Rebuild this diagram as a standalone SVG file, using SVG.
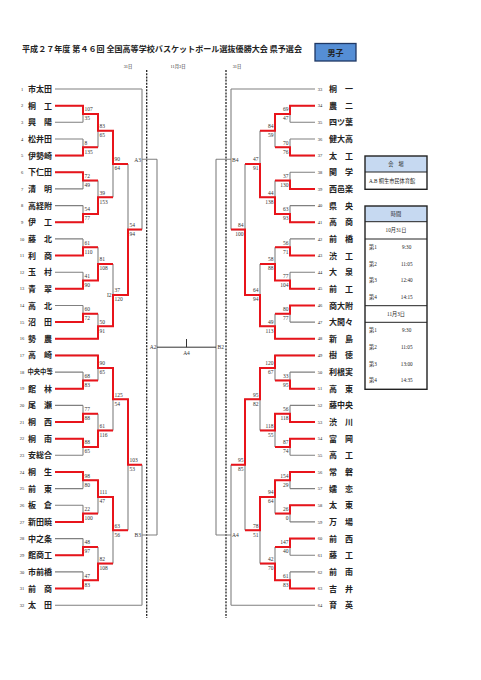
<svg xmlns="http://www.w3.org/2000/svg" width="481" height="680" viewBox="0 0 481 680">
<defs>
<style>
.g{stroke:#808080;stroke-width:1.1;fill:none}
.r{stroke:#e8141b;stroke-width:2;fill:none;stroke-linejoin:miter}
.k{stroke:#333;stroke-width:1;fill:none}
.d{stroke:#222;stroke-width:1.3;stroke-dasharray:2 1.2;fill:none}
text{font-family:"Liberation Serif","Noto Sans CJK JP",serif;fill:#222}
.nm{font-family:"Noto Sans CJK JP",sans-serif;font-weight:700;font-size:8px}
.nm4{font-family:"Noto Sans CJK JP",sans-serif;font-weight:700;font-size:6.3px}
.no{font-size:4.5px;text-anchor:middle}
.sc{font-size:5.5px;fill:#333}
.sr{font-size:5.5px;fill:#333;text-anchor:end}
.lb{font-size:5.5px;fill:#333}
.hd{font-size:4.3px;text-anchor:middle}
.bx{fill:none;stroke:#222;stroke-width:1.4}
.bl{stroke:#222;stroke-width:1}
.it{font-family:"Liberation Serif","Noto Sans CJK JP",serif;font-size:5.2px}
.ic{font-family:"Liberation Serif","Noto Sans CJK JP",serif;font-size:5.2px;text-anchor:middle}
</style>
<clipPath id="c1"><rect x="365" y="156" width="62" height="34"/></clipPath>
</defs>
<rect width="481" height="680" fill="#fff"/>

<g id="title">
<text x="22" y="52" style="font-family:'Noto Sans CJK JP',sans-serif;font-weight:700;font-size:8px" textLength="280" lengthAdjust="spacingAndGlyphs">平成２７年度 第４６回 全国高等学校バスケットボール選抜優勝大会 県予選会</text>
</g>
<g id="boys">
<rect x="315" y="43.5" width="41" height="17.5" fill="#558ed5" stroke="#1f3864" stroke-width="1.3"/>
<text x="335.5" y="55.5" text-anchor="middle" style="font-family:'Noto Sans CJK JP',sans-serif;font-weight:700;font-size:8px">男子</text>
</g>
<g id="dates">
<text class="hd" x="128" y="68">31日</text>
<text class="hd" x="178" y="68">11月3日</text>
<text class="hd" x="237" y="68">31日</text>
</g>

<g id="connectors">
<path class="d" d="M146.7,70V618M226,70V618"/>
<path class="g" d="M55,89H142M55,105.7H83M55,122.3H83M55,139H83M55,155.6H83M55,172.3H83M55,188.9H83M55,205.6H83M55,222.2H83M55,238.9H83M55,255.5H83M55,272.2H83M55,288.8H83M55,305.5H83M55,322.1H83M55,338.8H98M55,355.4H98M55,372.1H83M55,388.7H83M55,405.4H83M55,422H83M55,438.7H83M55,455.3H83M55,472H83M55,488.6H83M55,505.3H83M55,521.9H83M55,538.6H83M55,555.2H83M55,571.9H83M55,588.5H83M55,605.2H142
M83,105.7V122.3M83,114H98M83,139V155.6M83,147.3H98M83,172.3V188.9M83,180.6H98M83,205.6V222.2M83,213.9H98M83,238.9V255.5M83,247.2H98M83,272.2V288.8M83,280.5H98M83,305.5V322.1M83,313.8H98M83,372.1V388.7M83,380.4H98M83,405.4V422M83,413.7H98M83,438.7V455.3M83,447H98M83,472V488.6M83,480.3H98M83,505.3V521.9M83,513.6H98M83,538.6V555.2M83,546.9H98M83,571.9V588.5M83,580.2H98
M98,114V147.3M98,130.7H113M98,180.6V213.9M98,197.3H113M98,247.2V280.5M98,263.9H113M98,313.8V338.8M98,326.3H113M98,355.4V380.4M98,367.9H113M98,413.7V447M98,430.4H113M98,480.3V513.6M98,497H113M98,546.9V580.2M98,563.6H113
M113,130.7V197.3M113,164H128M113,263.9V326.3M113,295.1H128M113,367.9V430.4M113,399.2H128M113,497V563.6M113,530.3H128
M128,164V295.1M128,229.6H142M128,399.2V530.3M128,464.8H142
M142,89V229.6M142,159.3H157M142,464.8V605.2M142,535H157M157,159.3V535"/>
<path class="g" d="M315,89H231M315,105.7H290M315,122.3H290M315,139H290M315,155.6H290M315,172.3H290M315,188.9H290M315,205.6H290M315,222.2H290M315,238.9H290M315,255.5H290M315,272.2H290M315,288.8H290M315,305.5H290M315,322.1H290M315,338.8H275M315,355.4H275M315,372.1H290M315,388.7H290M315,405.4H290M315,422H290M315,438.7H290M315,455.3H290M315,472H290M315,488.6H290M315,505.3H290M315,521.9H290M315,538.6H290M315,555.2H290M315,571.9H290M315,588.5H290M315,605.2H231
M290,105.7V122.3M290,114H275M290,139V155.6M290,147.3H275M290,172.3V188.9M290,180.6H275M290,205.6V222.2M290,213.9H275M290,238.9V255.5M290,247.2H275M290,272.2V288.8M290,280.5H275M290,305.5V322.1M290,313.8H275M290,372.1V388.7M290,380.4H275M290,405.4V422M290,413.7H275M290,438.7V455.3M290,447H275M290,472V488.6M290,480.3H275M290,505.3V521.9M290,513.6H275M290,538.6V555.2M290,546.9H275M290,571.9V588.5M290,580.2H275
M275,114V147.3M275,130.7H260M275,180.6V213.9M275,197.3H260M275,247.2V280.5M275,263.9H260M275,313.8V338.8M275,326.3H260M275,355.4V380.4M275,367.9H260M275,413.7V447M275,430.4H260M275,480.3V513.6M275,497H260M275,546.9V580.2M275,563.6H260
M260,130.7V197.3M260,164H245M260,263.9V326.3M260,295.1H245M260,367.9V430.4M260,399.2H245M260,497V563.6M260,530.3H245
M245,164V295.1M245,229.6H231M245,399.2V530.3M245,464.8H231
M231,89V229.6M231,159.3H216M231,464.8V605.2M231,535H216M216,159.3V535"/>
<path class="k" d="M157,347.2H216M186.5,339V347.2"/>
<path class="r" d="M55,105.7H83V114H98V130.7H113V164H128M55,155.6H83V147.3H98M55,172.3H83V180.6H98M55,222.2H83V213.9H98V197.3H113M55,255.5H83V247.2H98M55,288.8H83V280.5H98V263.9H113M55,322.1H83V313.8H98M55,338.8H98V326.3H113V295.1H128V229.6H142M55,355.4H98V367.9H113V399.2H128V464.8H142M55,388.7H83V380.4H98M55,422H83V413.7H98M55,438.7H83V447H98V430.4H113M55,472H83V480.3H98V497H113V530.3H128M55,521.9H83V513.6H98M55,555.2H83V546.9H98M55,588.5H83V580.2H98V563.6H113"/>
<path class="r" d="M315,105.7H290V114H275V130.7H260M315,155.6H290V147.3H275M315,188.9H290V180.6H275M315,222.2H290V213.9H275V197.3H260V164H245M315,255.5H290V247.2H275M315,288.8H290V280.5H275V263.9H260M315,305.5H290V313.8H275M315,338.8H275V326.3H260V295.1H245V229.6H231M315,355.4H275V367.9H260V399.2H245V464.8H231M315,388.7H290V380.4H275M315,422H290V413.7H275V430.4H260M315,438.7H290V447H275M315,472H290V480.3H275V497H260V530.3H245M315,505.3H290V513.6H275M315,538.6H290V546.9H275M315,588.5H290V580.2H275V563.6H260"/>
</g>

<g id="scores-left" class="sc">
<text class="sc" x="84.5" y="111.3">107</text><text class="sc" x="84.5" y="120.3">35</text>
<text class="sc" x="84.5" y="144.6">8</text><text class="sc" x="84.5" y="153.6">135</text>
<text class="sc" x="84.5" y="177.9">72</text><text class="sc" x="84.5" y="186.9">49</text>
<text class="sc" x="84.5" y="211.2">54</text><text class="sc" x="84.5" y="220.2">77</text>
<text class="sc" x="84.5" y="244.5">61</text><text class="sc" x="84.5" y="253.5">110</text>
<text class="sc" x="84.5" y="277.8">41</text><text class="sc" x="84.5" y="286.8">90</text>
<text class="sc" x="84.5" y="311.1">60</text><text class="sc" x="84.5" y="320.1">72</text>
<text class="sc" x="84.5" y="377.7">68</text><text class="sc" x="84.5" y="386.7">83</text>
<text class="sc" x="84.5" y="411">77</text><text class="sc" x="84.5" y="420">88</text>
<text class="sc" x="84.5" y="444.3">88</text><text class="sc" x="84.5" y="453.3">65</text>
<text class="sc" x="84.5" y="477.6">98</text><text class="sc" x="84.5" y="486.6">80</text>
<text class="sc" x="84.5" y="510.9">22</text><text class="sc" x="84.5" y="519.9">100</text>
<text class="sc" x="84.5" y="544.2">48</text><text class="sc" x="84.5" y="553.2">97</text>
<text class="sc" x="84.5" y="577.5">47</text><text class="sc" x="84.5" y="586.5">83</text>
<text class="sc" x="99.5" y="128">83</text><text class="sc" x="99.5" y="137">65</text>
<text class="sc" x="99.5" y="194.6">39</text><text class="sc" x="99.5" y="203.6">153</text>
<text class="sc" x="99.5" y="261.2">81</text><text class="sc" x="99.5" y="270.2">108</text>
<text class="sc" x="99.5" y="323.6">50</text><text class="sc" x="99.5" y="332.6">91</text>
<text class="sc" x="99.5" y="365.2">90</text><text class="sc" x="99.5" y="374.2">65</text>
<text class="sc" x="99.5" y="427.7">61</text><text class="sc" x="99.5" y="436.7">116</text>
<text class="sc" x="99.5" y="494.3">111</text><text class="sc" x="99.5" y="503.3">47</text>
<text class="sc" x="99.5" y="560.9">82</text><text class="sc" x="99.5" y="569.9">108</text>
<text class="sc" x="114.5" y="161.3">90</text><text class="sc" x="114.5" y="170.3">64</text>
<text class="sc" x="114.5" y="292.4">37</text><text class="sc" x="114.5" y="301.4">120</text>
<text class="sc" x="114.5" y="396.5">125</text><text class="sc" x="114.5" y="405.5">54</text>
<text class="sc" x="114.5" y="527.6">63</text><text class="sc" x="114.5" y="536.6">56</text>
<text class="sc" x="129.5" y="226.9">54</text><text class="sc" x="129.5" y="235.9">94</text>
<text class="sc" x="129.5" y="462.1">103</text><text class="sc" x="129.5" y="471.1">53</text>
<text class="sr" x="111.5" y="297">I2</text>
</g>

<g id="scores-right">
<text class="sr" x="288.5" y="111.3">69</text><text class="sr" x="288.5" y="120.3">47</text>
<text class="sr" x="288.5" y="144.6">70</text><text class="sr" x="288.5" y="153.6">76</text>
<text class="sr" x="288.5" y="177.9">37</text><text class="sr" x="288.5" y="186.9">130</text>
<text class="sr" x="288.5" y="211.2">63</text><text class="sr" x="288.5" y="220.2">93</text>
<text class="sr" x="288.5" y="244.5">56</text><text class="sr" x="288.5" y="253.5">71</text>
<text class="sr" x="288.5" y="277.8">77</text><text class="sr" x="288.5" y="286.8">104</text>
<text class="sr" x="288.5" y="311.1">80</text><text class="sr" x="288.5" y="320.1">77</text>
<text class="sr" x="288.5" y="377.7">33</text><text class="sr" x="288.5" y="386.7">95</text>
<text class="sr" x="288.5" y="411">56</text><text class="sr" x="288.5" y="420">118</text>
<text class="sr" x="288.5" y="444.3">87</text><text class="sr" x="288.5" y="453.3">74</text>
<text class="sr" x="288.5" y="477.6">154</text><text class="sr" x="288.5" y="486.6">29</text>
<text class="sr" x="288.5" y="510.9">26</text><text class="sr" x="288.5" y="519.9">0</text>
<text class="sr" x="288.5" y="544.2">147</text><text class="sr" x="288.5" y="553.2">40</text>
<text class="sr" x="288.5" y="577.5">61</text><text class="sr" x="288.5" y="586.5">83</text>
<text class="sr" x="273.5" y="128">84</text><text class="sr" x="273.5" y="137">59</text>
<text class="sr" x="273.5" y="194.6">44</text><text class="sr" x="273.5" y="203.6">138</text>
<text class="sr" x="273.5" y="261.2">58</text><text class="sr" x="273.5" y="270.2">88</text>
<text class="sr" x="273.5" y="323.6">49</text><text class="sr" x="273.5" y="332.6">113</text>
<text class="sr" x="273.5" y="365.2">120</text><text class="sr" x="273.5" y="374.2">67</text>
<text class="sr" x="273.5" y="427.7">118</text><text class="sr" x="273.5" y="436.7">55</text>
<text class="sr" x="273.5" y="494.3">94</text><text class="sr" x="273.5" y="503.3">64</text>
<text class="sr" x="273.5" y="560.9">42</text><text class="sr" x="273.5" y="569.9">70</text>
<text class="sr" x="258.5" y="161.3">47</text><text class="sr" x="258.5" y="170.3">91</text>
<text class="sr" x="258.5" y="292.4">64</text><text class="sr" x="258.5" y="301.4">94</text>
<text class="sr" x="258.5" y="396.5">95</text><text class="sr" x="258.5" y="405.5">82</text>
<text class="sr" x="258.5" y="527.6">78</text><text class="sr" x="258.5" y="536.6">51</text>
<text class="sr" x="243.5" y="226.9">84</text><text class="sr" x="243.5" y="235.9">100</text>
<text class="sr" x="243.5" y="462.1">95</text><text class="sr" x="243.5" y="471.1">85</text>
</g>

<g id="game-labels">
<text class="sr" x="141" y="161.5">A3</text>
<text class="sr" x="141" y="537">B3</text>
<text class="sr" x="156.5" y="349.3">A2</text>
<text class="lb" x="217.5" y="349.3">B2</text>
<text class="lb" x="232" y="161.5">B4</text>
<text class="lb" x="232" y="537">A4</text>
<text class="lb" x="186.5" y="354.5" text-anchor="middle">A4</text>
</g>

<g id="t1"><text class="no" x="22" y="90.6">1</text><text class="nm" x="28" y="92">市太田</text></g>
<g id="t2"><text class="no" x="22" y="107.3">2</text><text class="nm" x="28" y="108.7">桐　工</text></g>
<g id="t3"><text class="no" x="22" y="123.9">3</text><text class="nm" x="28" y="125.3">興　陽</text></g>
<g id="t4"><text class="no" x="22" y="140.6">4</text><text class="nm" x="28" y="142">松井田</text></g>
<g id="t5"><text class="no" x="22" y="157.2">5</text><text class="nm" x="28" y="158.6">伊勢崎</text></g>
<g id="t6"><text class="no" x="22" y="173.9">6</text><text class="nm" x="28" y="175.3">下仁田</text></g>
<g id="t7"><text class="no" x="22" y="190.5">7</text><text class="nm" x="28" y="191.9">清　明</text></g>
<g id="t8"><text class="no" x="22" y="207.2">8</text><text class="nm" x="28" y="208.6">高経附</text></g>
<g id="t9"><text class="no" x="22" y="223.8">9</text><text class="nm" x="28" y="225.2">伊　工</text></g>
<g id="t10"><text class="no" x="22" y="240.5">10</text><text class="nm" x="28" y="241.9">藤　北</text></g>
<g id="t11"><text class="no" x="22" y="257.1">11</text><text class="nm" x="28" y="258.5">利　商</text></g>
<g id="t12"><text class="no" x="22" y="273.8">12</text><text class="nm" x="28" y="275.2">玉　村</text></g>
<g id="t13"><text class="no" x="22" y="290.4">13</text><text class="nm" x="28" y="291.8">青　翠</text></g>
<g id="t14"><text class="no" x="22" y="307.1">14</text><text class="nm" x="28" y="308.5">高　北</text></g>
<g id="t15"><text class="no" x="22" y="323.7">15</text><text class="nm" x="28" y="325.1">沼　田</text></g>
<g id="t16"><text class="no" x="22" y="340.4">16</text><text class="nm" x="28" y="341.8">勢　農</text></g>
<g id="t17"><text class="no" x="22" y="357">17</text><text class="nm" x="28" y="358.4">高　崎</text></g>
<g id="t18"><text class="no" x="22" y="373.7">18</text><text class="nm4" x="27.5" y="374.4">中央中等</text></g>
<g id="t19"><text class="no" x="22" y="390.3">19</text><text class="nm" x="28" y="391.7">館　林</text></g>
<g id="t20"><text class="no" x="22" y="407">20</text><text class="nm" x="28" y="408.4">尾　瀬</text></g>
<g id="t21"><text class="no" x="22" y="423.6">21</text><text class="nm" x="28" y="425">桐　西</text></g>
<g id="t22"><text class="no" x="22" y="440.3">22</text><text class="nm" x="28" y="441.7">桐　南</text></g>
<g id="t23"><text class="no" x="22" y="456.9">23</text><text class="nm" x="28" y="458.3">安総合</text></g>
<g id="t24"><text class="no" x="22" y="473.6">24</text><text class="nm" x="28" y="475">桐　生</text></g>
<g id="t25"><text class="no" x="22" y="490.2">25</text><text class="nm" x="28" y="491.6">前　東</text></g>
<g id="t26"><text class="no" x="22" y="506.9">26</text><text class="nm" x="28" y="508.3">板　倉</text></g>
<g id="t27"><text class="no" x="22" y="523.5">27</text><text class="nm" x="28" y="524.9">新田暁</text></g>
<g id="t28"><text class="no" x="22" y="540.2">28</text><text class="nm" x="28" y="541.6">中之条</text></g>
<g id="t29"><text class="no" x="22" y="556.8">29</text><text class="nm" x="28" y="558.2">館商工</text></g>
<g id="t30"><text class="no" x="22" y="573.5">30</text><text class="nm" x="28" y="574.9">市前橋</text></g>
<g id="t31"><text class="no" x="22" y="590.1">31</text><text class="nm" x="28" y="591.5">前　商</text></g>
<g id="t32"><text class="no" x="22" y="606.8">32</text><text class="nm" x="28" y="608.2">太　田</text></g>

<g id="t33"><text class="no" x="320" y="90.6">33</text><text class="nm" x="329" y="92">桐　一</text></g>
<g id="t34"><text class="no" x="320" y="107.3">34</text><text class="nm" x="329" y="108.7">農　二</text></g>
<g id="t35"><text class="no" x="320" y="123.9">35</text><text class="nm" x="329" y="125.3">四ツ葉</text></g>
<g id="t36"><text class="no" x="320" y="140.6">36</text><text class="nm" x="329" y="142">健大高</text></g>
<g id="t37"><text class="no" x="320" y="157.2">37</text><text class="nm" x="329" y="158.6">太　工</text></g>
<g id="t38"><text class="no" x="320" y="173.9">38</text><text class="nm" x="329" y="175.3">関　学</text></g>
<g id="t39"><text class="no" x="320" y="190.5">39</text><text class="nm" x="329" y="191.9">西邑楽</text></g>
<g id="t40"><text class="no" x="320" y="207.2">40</text><text class="nm" x="329" y="208.6">県　央</text></g>
<g id="t41"><text class="no" x="320" y="223.8">41</text><text class="nm" x="329" y="225.2">高　商</text></g>
<g id="t42"><text class="no" x="320" y="240.5">42</text><text class="nm" x="329" y="241.9">前　橋</text></g>
<g id="t43"><text class="no" x="320" y="257.1">43</text><text class="nm" x="329" y="258.5">渋　工</text></g>
<g id="t44"><text class="no" x="320" y="273.8">44</text><text class="nm" x="329" y="275.2">大　泉</text></g>
<g id="t45"><text class="no" x="320" y="290.4">45</text><text class="nm" x="329" y="291.8">前　工</text></g>
<g id="t46"><text class="no" x="320" y="307.1">46</text><text class="nm" x="329" y="308.5">商大附</text></g>
<g id="t47"><text class="no" x="320" y="323.7">47</text><text class="nm" x="329" y="325.1">大間々</text></g>
<g id="t48"><text class="no" x="320" y="340.4">48</text><text class="nm" x="329" y="341.8">新　島</text></g>
<g id="t49"><text class="no" x="320" y="357">49</text><text class="nm" x="329" y="358.4">樹　徳</text></g>
<g id="t50"><text class="no" x="320" y="373.7">50</text><text class="nm" x="329" y="375.1">利根実</text></g>
<g id="t51"><text class="no" x="320" y="390.3">51</text><text class="nm" x="329" y="391.7">高　東</text></g>
<g id="t52"><text class="no" x="320" y="407">52</text><text class="nm" x="329" y="408.4">藤中央</text></g>
<g id="t53"><text class="no" x="320" y="423.6">53</text><text class="nm" x="329" y="425">渋　川</text></g>
<g id="t54"><text class="no" x="320" y="440.3">54</text><text class="nm" x="329" y="441.7">富　岡</text></g>
<g id="t55"><text class="no" x="320" y="456.9">55</text><text class="nm" x="329" y="458.3">高　工</text></g>
<g id="t56"><text class="no" x="320" y="473.6">56</text><text class="nm" x="329" y="475">常　磐</text></g>
<g id="t57"><text class="no" x="320" y="490.2">57</text><text class="nm" x="329" y="491.6">嬬　恋</text></g>
<g id="t58"><text class="no" x="320" y="506.9">58</text><text class="nm" x="329" y="508.3">太　東</text></g>
<g id="t59"><text class="no" x="320" y="523.5">59</text><text class="nm" x="329" y="524.9">万　場</text></g>
<g id="t60"><text class="no" x="320" y="540.2">60</text><text class="nm" x="329" y="541.6">前　西</text></g>
<g id="t61"><text class="no" x="320" y="556.8">61</text><text class="nm" x="329" y="558.2">藤　工</text></g>
<g id="t62"><text class="no" x="320" y="573.5">62</text><text class="nm" x="329" y="574.9">前　南</text></g>
<g id="t63"><text class="no" x="320" y="590.1">63</text><text class="nm" x="329" y="591.5">吉　井</text></g>
<g id="t64"><text class="no" x="320" y="606.8">64</text><text class="nm" x="329" y="608.2">育　英</text></g>

<g id="venue">
<rect x="365" y="156" width="62" height="16" fill="#c6d9f1"/>
<line class="bl" x1="365" y1="172" x2="427" y2="172"/>
<text class="ic" x="396" y="166">会　場</text>
<text class="it" x="369" y="183" clip-path="url(#c1)">A.B  桐生市民体育館</text>
<rect class="bx" x="365" y="156" width="62" height="33.3"/>
</g>

<g id="schedule">
<rect x="365" y="206" width="62" height="15.7" fill="#c6d9f1"/>
<line class="bl" x1="365" y1="221.7" x2="427" y2="221.7"/>
<line class="bl" x1="365" y1="239" x2="427" y2="239" stroke-width="1.4"/>
<line class="bl" x1="365" y1="305.7" x2="427" y2="305.7" stroke-width="1.4"/>
<line class="bl" x1="365" y1="322.3" x2="427" y2="322.3" stroke-width="1.4"/>
<text class="ic" x="396" y="216">時間</text>
<text class="ic" x="396" y="232">10月31日</text>
<text class="it" x="369" y="249">第1</text><text class="ic" x="406.7" y="249">9:30</text>
<text class="it" x="369" y="265.7">第2</text><text class="ic" x="406.7" y="265.7">11:05</text>
<text class="it" x="369" y="282.4">第3</text><text class="ic" x="406.7" y="282.4">12:40</text>
<text class="it" x="369" y="298.7">第4</text><text class="ic" x="406.7" y="298.7">14:15</text>
<text class="ic" x="396" y="315.8">11月3日</text>
<text class="it" x="369" y="332.4">第1</text><text class="ic" x="406.7" y="332.4">9:30</text>
<text class="it" x="369" y="349">第2</text><text class="ic" x="406.7" y="349">11:05</text>
<text class="it" x="369" y="365.7">第3</text><text class="ic" x="406.7" y="365.7">13:00</text>
<text class="it" x="369" y="382">第4</text><text class="ic" x="406.7" y="382">14:35</text>
<rect class="bx" x="365" y="206" width="62" height="183.3"/>
</g>
</svg>
